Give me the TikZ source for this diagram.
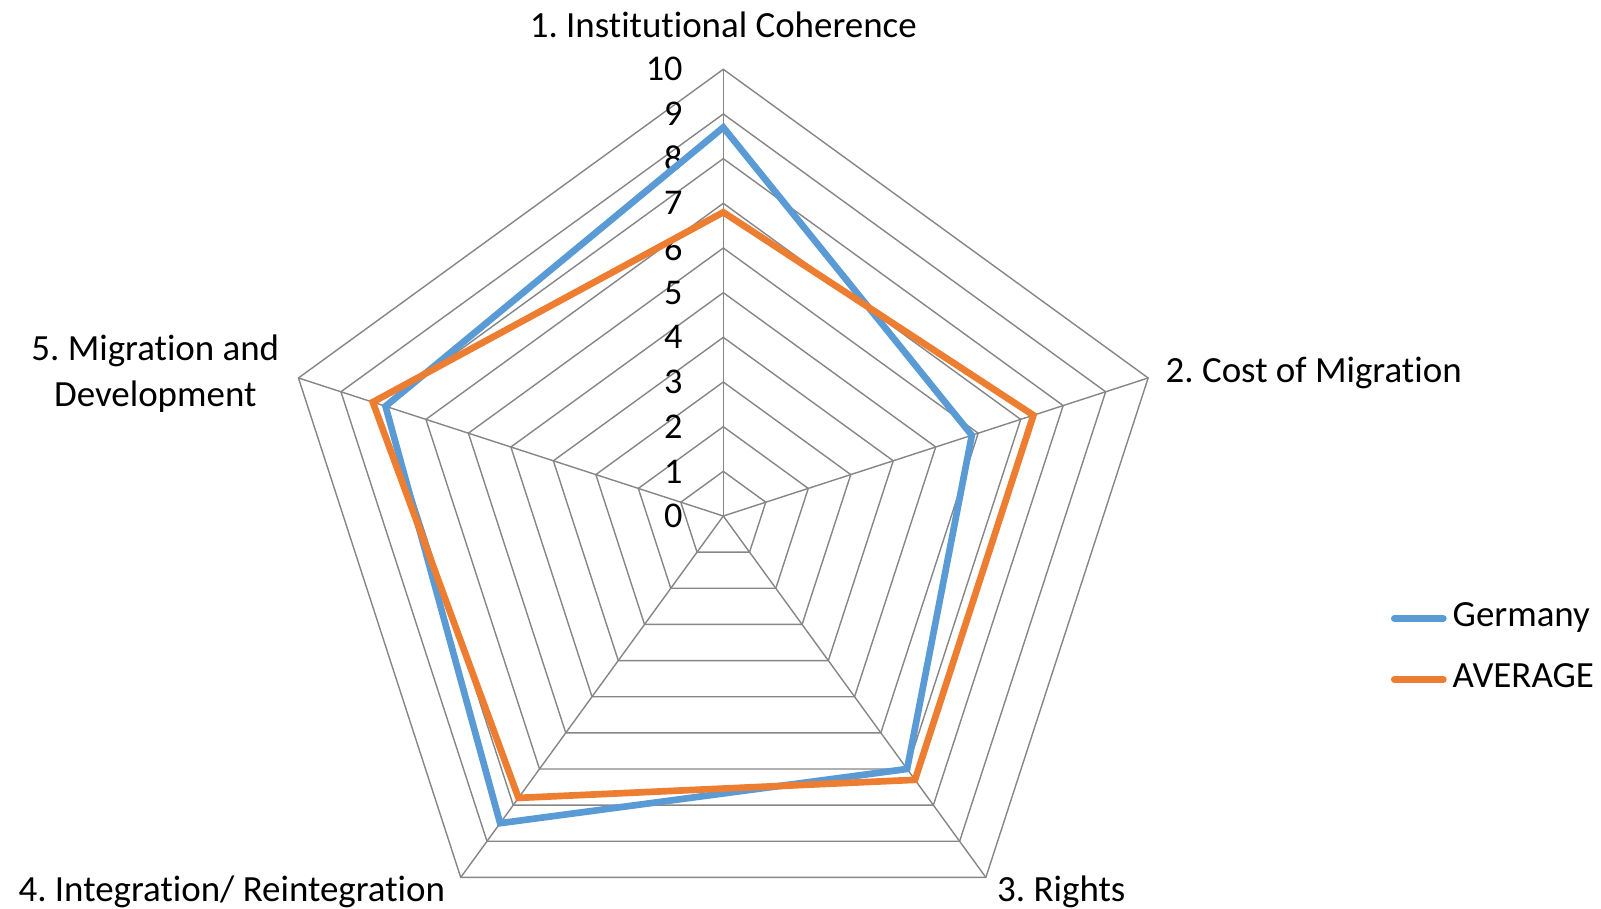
\documentclass[tikz,border=0pt]{standalone}
\usepackage{fontspec}
\setmainfont{Carlito}[Ligatures=NoCommon]
\usetikzlibrary{positioning}
\definecolor{germanycolor}{RGB}{91,155,213}
\definecolor{averagecolor}{RGB}{237,125,49}
\definecolor{gridcolor}{RGB}{134,134,134}
\newcommand{\radarunit}{44.67}
\frenchspacing

\begin{document}
\begin{tikzpicture}[x=0.01cm, y=0.01cm,
    % Styles
    grid line/.style={draw=gridcolor, line width=0.4pt},
    series line/.style={line width=1.9pt, line join=miter},
    germany line/.style={series line, draw=germanycolor},
    average line/.style={series line, draw=averagecolor},
    tick label/.style={font=\fontsize{10.3}{12}\selectfont, anchor=east, inner sep=0},
    axis label/.style={font=\fontsize{10.5}{13.1}\selectfont, inner sep=0, align=center},
    legend line/.style={line width=1.9pt, line cap=round},
    legend label/.style={font=\fontsize{10.5}{12}\selectfont, inner sep=0, anchor=west},
]
    \useasboundingbox (-723.3,-392) rectangle (877.7,516);

    % === Grid ===
    % Pentagons for levels 1..10
    \foreach \lvl in {1,...,10}{
        \draw[grid line] (90:\lvl*\radarunit) -- (18:\lvl*\radarunit) -- (-54:\lvl*\radarunit)
            -- (-126:\lvl*\radarunit) -- (162:\lvl*\radarunit) -- cycle;
    }
    % Spokes from the centre
    \coordinate (center) at (0,0);
    \foreach \ang [count=\i] in {90,18,-54,-126,162}{
        \coordinate (axis-\i) at (\ang:10*\radarunit);
        \draw[grid line] (center) -- (axis-\i);
    }

    % Scale labels along the vertical spoke
    \foreach \lvl in {0,...,10}{
        \node[tick label] (tick-\lvl) at (-40,\lvl*\radarunit) {\lvl};
    }

    % === Axis titles ===
    \node[axis label] (label-1) at (0,491.5) {1. Institutional Coherence};
    \node[axis label, anchor=west] (label-2) at (441.7,143) {2. Cost of Migration};
    \node[axis label] (label-3) at (338,-376) {3. Rights};
    \node[axis label] (label-4) at (-491.5,-376) {4. Integration/ Reintegration};
    \node[axis label] (label-5) at (-568,142) {5. Migration and\\Development};

    % === Data series ===
    \foreach \val/\ang [count=\i] in {8.7/90, 5.85/18, 7.0/-54, 8.5/-126, 7.95/162}{
        \coordinate (germany-\i) at (\ang:\val*\radarunit);
    }
    \foreach \val/\ang [count=\i] in {6.8/90, 7.3/18, 7.3/-54, 7.8/-126, 8.25/162}{
        \coordinate (average-\i) at (\ang:\val*\radarunit);
    }
    \draw[germany line] (germany-1) -- (germany-2) -- (germany-3) -- (germany-4) -- (germany-5) -- cycle;
    \draw[average line] (average-1) -- (average-2) -- (average-3) -- (average-4) -- (average-5) -- cycle;

    % === Legend ===
    \coordinate (leg-g-start) at (671,-102.5);
    \coordinate (leg-g-end) at (720,-102.5);
    \draw[legend line, germanycolor] (leg-g-start) -- (leg-g-end);
    \node[legend label] (leg-germany) at (728.7,-102.5) {\strut Germany};
    \coordinate (leg-a-start) at (671,-163.5);
    \coordinate (leg-a-end) at (720,-163.5);
    \draw[legend line, averagecolor] (leg-a-start) -- (leg-a-end);
    \node[legend label] (leg-average) at (728.7,-163.5) {\strut AVERAGE};
\end{tikzpicture}
\end{document}
